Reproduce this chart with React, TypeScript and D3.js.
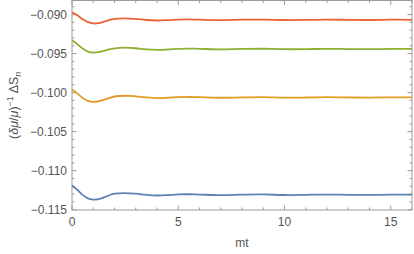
import React from 'react';
import * as d3 from 'd3';

// time samples (mt) and the four series
const tVals = [0, 0.25, 0.5, 0.75, 1, 1.25, 1.5, 1.75, 2, 2.5, 3, 3.5, 4, 4.5, 5, 5.5, 6, 7, 8, 9, 10, 11, 12, 13, 14, 15, 16];

const redVals = [-0.08970, -0.09010, -0.09060, -0.09098, -0.09114, -0.09110, -0.09092, -0.09070, -0.09055, -0.09048, -0.09056, -0.09070, -0.09076, -0.09072, -0.09064, -0.09062, -0.09066, -0.09072, -0.09066, -0.09064, -0.09070, -0.09069, -0.09065, -0.09068, -0.09070, -0.09066, -0.09067];
const greenVals = [-0.09330, -0.09380, -0.09435, -0.09474, -0.09487, -0.09482, -0.09465, -0.09445, -0.09432, -0.09425, -0.09432, -0.09446, -0.09452, -0.09448, -0.09440, -0.09436, -0.09439, -0.09446, -0.09441, -0.09438, -0.09444, -0.09443, -0.09439, -0.09442, -0.09444, -0.09440, -0.09441];
const orangeVals = [-0.09960, -0.10010, -0.10068, -0.10105, -0.10118, -0.10112, -0.10094, -0.10070, -0.10050, -0.10040, -0.10048, -0.10062, -0.10070, -0.10066, -0.10058, -0.10056, -0.10059, -0.10066, -0.10061, -0.10058, -0.10064, -0.10063, -0.10059, -0.10062, -0.10064, -0.10060, -0.10061];
const blueVals = [-0.11190, -0.11245, -0.11310, -0.11355, -0.11370, -0.11364, -0.11343, -0.11315, -0.11295, -0.11287, -0.11295, -0.11310, -0.11318, -0.11314, -0.11305, -0.11302, -0.11306, -0.11314, -0.11308, -0.11305, -0.11312, -0.11310, -0.11306, -0.11309, -0.11311, -0.11307, -0.11308];

const seriesList = [
  { values: blueVals, color: '#5E81B5' },
  { values: orangeVals, color: '#E19C24' },
  { values: greenVals, color: '#8FB032' },
  { values: redVals, color: '#EB6235' },
];

const xMajor = [0, 5, 10, 15];
const yMajor = [-0.115, -0.110, -0.105, -0.100, -0.095, -0.090];

const App = () => {
  const width = 414;
  const height = 254;
  const margin = { top: 0.5, right: 2, bottom: 44, left: 72 };

  const x = d3.scaleLinear().domain([0, 16]).range([margin.left, width - margin.right]);
  const y = d3.scaleLinear().domain([-0.11504, -0.0882]).range([height - margin.bottom, margin.top]);

  const line = d3.line<number>()
    .x((_, i) => x(tVals[i]))
    .y(d => y(d))
    .curve(d3.curveCatmullRom.alpha(0.5));

  const xMinor = d3.range(0, 16.01, 1).filter(v => !xMajor.includes(v));
  const yMinor = d3.range(-115, -88, 1).map(v => v / 1000).filter(v => !yMajor.some(m => Math.abs(m - v) < 1e-9));

  const axisColor = '#9a9a9a';
  const textColor = '#555';
  const font = 'Liberation Sans, Arial, sans-serif';
  const x0 = margin.left, x1 = width - margin.right;
  const y0 = height - margin.bottom, y1 = margin.top;

  return (
    <svg width={width} height={height} style={{ position: 'absolute', left: 0, top: 0 }} fontFamily={font}>
      <rect x={x0} y={y1} width={x1 - x0} height={y0 - y1} fill="none" stroke={axisColor} strokeWidth={1} />
      {xMajor.map(v => (
        <g key={'xM' + v}>
          <line x1={x(v)} x2={x(v)} y1={y0} y2={y0 - 4.5} stroke={axisColor} />
          <line x1={x(v)} x2={x(v)} y1={y1} y2={y1 + 4.5} stroke={axisColor} />
          <text x={x(v)} y={y0 + 16} textAnchor="middle" fontSize={12} fill={textColor}>{v}</text>
        </g>
      ))}
      {xMinor.map(v => (
        <g key={'xm' + v}>
          <line x1={x(v)} x2={x(v)} y1={y0} y2={y0 - 2.5} stroke={axisColor} />
          <line x1={x(v)} x2={x(v)} y1={y1} y2={y1 + 2.5} stroke={axisColor} />
        </g>
      ))}
      {yMajor.map(v => (
        <g key={'yM' + v}>
          <line x1={x0} x2={x0 + 4.5} y1={y(v)} y2={y(v)} stroke={axisColor} />
          <line x1={x1} x2={x1 - 4.5} y1={y(v)} y2={y(v)} stroke={axisColor} />
          <text x={x0 - 5} y={y(v) + 4.3} textAnchor="end" fontSize={12} fill={textColor}>
            {d3.format('.3f')(v).replace('-', '\u2212')}
          </text>
        </g>
      ))}
      {yMinor.map(v => (
        <g key={'ym' + v}>
          <line x1={x0} x2={x0 + 2.5} y1={y(v)} y2={y(v)} stroke={axisColor} />
          <line x1={x1} x2={x1 - 2.5} y1={y(v)} y2={y(v)} stroke={axisColor} />
        </g>
      ))}
      {seriesList.map(s => (
        <path key={s.color} d={line(s.values) || ''} fill="none" stroke={s.color} strokeWidth={1.8} />
      ))}
      <text x={(x0 + x1) / 2} y={247} textAnchor="middle" fontSize={12} fill={textColor}>mt</text>
      <text transform={`translate(18,${(y0 + y1) / 2}) rotate(-90)`} textAnchor="middle" fontSize={12.5} fill={textColor}>
        <tspan>(</tspan><tspan fontStyle="italic">δμ</tspan><tspan>/</tspan><tspan fontStyle="italic">μ</tspan><tspan>)</tspan>
        <tspan fontSize={9} dy={-5}>{'\u22121'}</tspan>
        <tspan dy={5}>{' \u0394S'}</tspan>
        <tspan fontSize={9} dy={3} fontStyle="italic">n</tspan>
      </text>
    </svg>
  );
};

export default App;
